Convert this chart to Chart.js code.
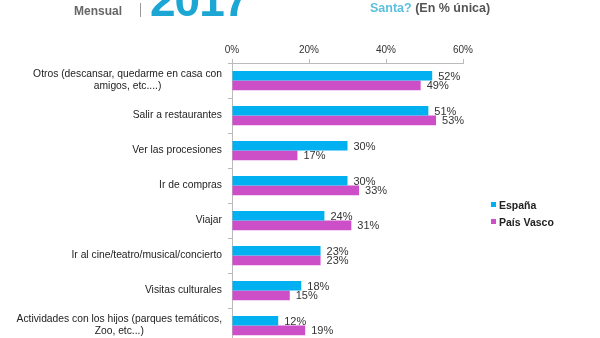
<!DOCTYPE html>
<html>
<head>
<meta charset="utf-8">
<script src="https://cdn.jsdelivr.net/npm/chart.js@4.4.1/dist/chart.umd.min.js"></script>
<style>
  html, body { margin: 0; padding: 0; width: 600px; height: 338px; overflow: hidden; background: #fff; font-family: "Liberation Sans", Arial, sans-serif; }
  #wrap { position: absolute; left: 0; top: 0; width: 600px; height: 350px; }
  .hdr { position: absolute; white-space: nowrap; font-weight: bold; }
  .leg { position: absolute; left: 491px; font-size: 10.5px; font-weight: bold; color: #222; }
  .leg i { display: inline-block; width: 5px; height: 5px; margin-right: 3px; vertical-align: 2px; }
</style>
</head>
<body>
<div id="wrap"><canvas id="grafico"></canvas></div>

<!-- cabecera recortada -->
<div class="hdr" style="left:18px;top:-28px;font-size:30px;color:#444;">Barómetro</div>
<div class="hdr" style="left:74px;top:4px;font-size:12px;color:#666;">Mensual</div>
<div style="position:absolute;left:140px;top:3px;width:1px;height:14px;background:#999;"></div>
<div class="hdr" style="left:150px;top:-27px;font-size:46px;color:#1ba6d3;letter-spacing:-1px;">2017</div>
<div class="hdr" style="left:370px;top:1px;font-size:12.5px;"><span style="color:#5cc0dc;">Santa?</span> <span style="color:#555;">(En % única)</span></div>

<div class="leg" style="top:199px;"><i style="background:#00b0f0"></i>España</div>
<div class="leg" style="top:216px;"><i style="background:#cc4fc8"></i>País Vasco</div>

<script>
// Datos
const categorias = [
  ['Otros (descansar, quedarme en casa con', 'amigos, etc....)'],
  ['Salir a restaurantes'],
  ['Ver las procesiones'],
  ['Ir de compras'],
  ['Viajar'],
  ['Ir al cine/teatro/musical/concierto'],
  ['Visitas culturales'],
  ['Actividades con los hijos (parques temáticos,', 'Zoo, etc...)']
];
const espana = [52, 51, 30, 30, 24, 23, 18, 12];
const paisVasco = [49, 53, 17, 33, 31, 23, 15, 19];
const ticksX = [0, 20, 40, 60];

const fuente = '"Liberation Sans", Arial, sans-serif';

// etiquetas de categoria: primera linea alineada a la derecha, el resto centrado bajo ella
const etiquetasY = {
  id: 'etiquetasY',
  afterDraw(chart) {
    const ctx = chart.ctx;
    const y = chart.scales.y;
    ctx.save();
    ctx.font = '10.3px ' + fuente;
    ctx.fillStyle = '#222';
    ctx.textBaseline = 'middle';
    const derecha = y.right - 10;
    categorias.forEach((lineas, i) => {
      const cy = y.getPixelForTick(i);
      const alto = 12;
      const y0 = cy - (lineas.length - 1) * alto / 2;
      const w0 = ctx.measureText(lineas[0]).width;
      lineas.forEach((t, k) => {
        if (k === 0) {
          ctx.textAlign = 'right';
          ctx.fillText(t, derecha, y0);
        } else {
          ctx.textAlign = 'center';
          ctx.fillText(t, derecha - w0 / 2, y0 + k * alto);
        }
      });
    });
    ctx.restore();
  }
};

// valores al final de cada barra
const valores = {
  id: 'valores',
  afterDatasetsDraw(chart) {
    const ctx = chart.ctx;
    ctx.save();
    ctx.font = '11px ' + fuente;
    ctx.fillStyle = '#333';
    ctx.textAlign = 'left';
    ctx.textBaseline = 'middle';
    chart.data.datasets.forEach((ds, d) => {
      chart.getDatasetMeta(d).data.forEach((el, i) => {
        ctx.fillText(ds.data[i] + '%', el.x + 6, el.y + 1);
      });
    });
    ctx.restore();
  }
};

new Chart(document.getElementById('grafico'), {
  type: 'bar',
  data: {
    labels: categorias.map(l => l.join(' ')),
    datasets: [
      { label: 'España', data: espana, backgroundColor: '#00b0f0', categoryPercentage: 0.55, barPercentage: 1 },
      { label: 'País Vasco', data: paisVasco, backgroundColor: '#cc4fc8', categoryPercentage: 0.55, barPercentage: 1 }
    ]
  },
  options: {
    indexAxis: 'y',
    responsive: true,
    maintainAspectRatio: false,
    animation: false,
    layout: { padding: { top: 45, right: 137, bottom: 7, left: 0 } },
    plugins: {
      legend: { display: false },
      tooltip: { enabled: false }
    },
    scales: {
      x: {
        position: 'top',
        min: 0,
        max: 60,
        afterBuildTicks(scale) { scale.ticks = ticksX.map(v => ({ value: v })); },
        afterFit(scale) { scale.height = 18; },
        ticks: { callback: v => v + '%', color: '#333', font: { size: 10, family: fuente }, padding: 3 },
        grid: { drawOnChartArea: false, tickLength: 4, color: '#bbb' },
        border: { color: '#bbb' }
      },
      y: {
        afterFit(scale) { scale.width = 232; },
        ticks: { display: false },
        grid: { drawOnChartArea: false, tickLength: 4, color: '#bbb', offset: true },
        border: { color: '#bbb' }
      }
    }
  },
  plugins: [etiquetasY, valores]
});
</script>
</body>
</html>
